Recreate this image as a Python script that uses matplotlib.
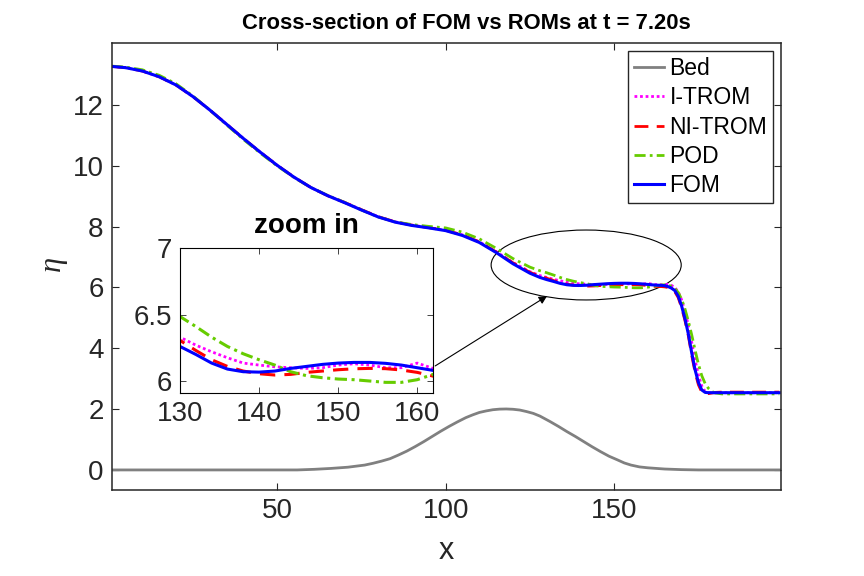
import matplotlib
matplotlib.use("Agg")
import matplotlib.pyplot as plt
from matplotlib.patches import Ellipse

plt.rcParams['font.family'] = ['Liberation Sans', 'DejaVu Sans']
plt.rcParams['mathtext.fontset'] = 'custom'
plt.rcParams['mathtext.it'] = 'Liberation Serif:italic'

# ---------------- data ----------------
x_eta = [1, 5, 10, 15, 20, 25, 30, 35, 40, 45, 50, 55, 60, 65, 70, 75, 80, 85, 90, 95,
         100, 105, 110, 115, 120, 125, 128,
         130, 132, 134, 136, 138, 140, 142, 144, 146, 148, 150, 152, 154, 156, 158, 160, 162,
         164, 165, 166, 167, 168, 169, 170, 171, 172, 173, 174, 175, 176, 177, 178, 179, 180,
         182, 185, 190, 195, 199]

fom = [13.27, 13.23, 13.12, 12.93, 12.66, 12.28, 11.84, 11.37, 10.90, 10.45, 10.02, 9.63, 9.29, 9.02, 8.79, 8.55, 8.32, 8.15, 8.04, 7.96,
       7.87, 7.71, 7.48, 7.15, 6.78, 6.47, 6.33,
       6.26, 6.20, 6.135, 6.09, 6.07, 6.067, 6.075, 6.095, 6.11, 6.125, 6.135, 6.14, 6.14, 6.133, 6.12, 6.10, 6.08,
       6.07, 6.06, 6.03, 5.98, 5.90, 5.72, 5.40, 4.98, 4.48, 3.86, 3.30, 2.88, 2.63, 2.55, 2.54, 2.54, 2.54,
       2.54, 2.54, 2.54, 2.54, 2.54]

i_trom = [13.27, 13.23, 13.12, 12.93, 12.66, 12.28, 11.84, 11.37, 10.90, 10.45, 10.02, 9.63, 9.29, 9.02, 8.80, 8.56, 8.33, 8.16, 8.05, 7.97,
          7.88, 7.73, 7.50, 7.18, 6.82, 6.52, 6.39,
          6.33, 6.27, 6.22, 6.175, 6.135, 6.12, 6.107, 6.10, 6.095, 6.10, 6.12, 6.13, 6.12, 6.10, 6.10, 6.135, 6.095,
          6.09, 6.10, 6.10, 6.07, 6.00, 5.86, 5.60, 5.22, 4.76, 4.20, 3.62, 3.12, 2.76, 2.58, 2.54, 2.54, 2.54,
          2.54, 2.54, 2.54, 2.54, 2.54]

ni_trom = [13.27, 13.23, 13.12, 12.93, 12.66, 12.28, 11.84, 11.37, 10.90, 10.45, 10.02, 9.63, 9.29, 9.02, 8.80, 8.56, 8.33, 8.16, 8.05, 7.97,
           7.88, 7.73, 7.50, 7.17, 6.81, 6.50, 6.37,
           6.306, 6.23, 6.16, 6.11, 6.075, 6.055, 6.045, 6.05, 6.065, 6.075, 6.085, 6.092, 6.095, 6.093, 6.083, 6.065, 6.037,
           6.03, 6.02, 6.00, 5.95, 5.86, 5.67, 5.34, 4.92, 4.42, 3.78, 3.22, 2.80, 2.56, 2.50, 2.51, 2.53, 2.55,
           2.56, 2.56, 2.56, 2.56, 2.56]

pod = [13.28, 13.25, 13.16, 12.98, 12.70, 12.30, 11.84, 11.35, 10.87, 10.42, 10.00, 9.62, 9.29, 9.03, 8.80, 8.55, 8.32, 8.16, 8.07, 8.01,
       7.96, 7.82, 7.60, 7.29, 6.95, 6.67, 6.55,
       6.485, 6.41, 6.33, 6.26, 6.205, 6.16, 6.12, 6.07, 6.04, 6.025, 6.015, 6.01, 6.00, 5.99, 5.99, 6.01, 6.05,
       6.08, 6.09, 6.08, 6.04, 5.97, 5.84, 5.62, 5.30, 4.90, 4.45, 3.95, 3.48, 3.10, 2.84, 2.68, 2.58, 2.53,
       2.50, 2.50, 2.50, 2.50, 2.50]

x_bed = [1, 40, 56, 61, 66, 71, 76, 78.5, 81, 83.5, 86, 88.5, 91, 93.5, 96, 98.5, 101, 103.5,
         106, 108, 110, 112, 114, 116, 118, 120, 122, 124, 126, 128, 131, 133.5, 136, 138.5,
         141, 143.5, 146, 148.5, 151, 153, 155, 157.5, 160, 165, 170, 175, 185, 199]
bed = [0.0, 0.0, 0.0, 0.02, 0.05, 0.09, 0.16, 0.22, 0.29, 0.37, 0.49, 0.62, 0.77, 0.93, 1.10, 1.27, 1.43, 1.58,
       1.72, 1.81, 1.89, 1.94, 1.98, 2.00, 2.005, 1.995, 1.97, 1.92, 1.86, 1.77, 1.59, 1.43, 1.26, 1.10,
       0.93, 0.76, 0.60, 0.45, 0.33, 0.23, 0.16, 0.10, 0.07, 0.03, 0.01, 0.0, 0.0, 0.0]

labels = ['Bed', 'I-TROM', 'NI-TROM', 'POD', 'FOM']
title = 'Cross-section of FOM vs ROMs at t = 7.20s'

# ---------------- styles ----------------
c_bed = '#808080'
c_itrom = '#ff00ff'
c_nitrom = '#ff0000'
c_pod = '#66cc00'
c_fom = '#0000ff'
axc = '#262626'

fig = plt.figure(figsize=(8.64, 5.76), dpi=100)
ax = fig.add_axes([0.1296, 0.1493, 0.7743, 0.776])

ax.plot(x_bed, bed, color=c_bed, lw=2.0, label=labels[0])
ax.plot(x_eta, i_trom, color=c_itrom, lw=2.0, linestyle=(0, (1, 1)), label=labels[1])
ax.plot(x_eta, ni_trom, color=c_nitrom, lw=2.0, linestyle=(0, (5, 3)), label=labels[2])
ax.plot(x_eta, pod, color=c_pod, lw=2.0, linestyle=(0, (4, 1.5, 1, 1.5)), label=labels[3])
ax.plot(x_eta, fom, color=c_fom, lw=2.2, label=labels[4])

ax.set_xlim(1, 199.5)
ax.set_ylim(-0.66, 14.04)
ax.set_xticks([50, 100, 150])
ax.set_yticks([0, 2, 4, 6, 8, 10, 12])
ax.tick_params(direction='in', length=5, width=0.8, colors=axc, labelsize=20,
               top=True, right=True, pad=6)
for s in ax.spines.values():
    s.set_color(axc)
    s.set_linewidth(1.1)

ttl = ax.set_title(title, fontsize=15.8, fontweight='bold', pad=10)
ttl.set_x(0.53)
ax.set_xlabel('x', fontsize=22, color=axc)
ax.xaxis.set_label_coords(0.5, -0.102)
ax.set_ylabel(r'$\eta$', fontsize=22, color=axc)
ax.yaxis.set_label_coords(-0.062, 0.503)

leg = ax.legend(loc='upper right', fontsize=16.5, frameon=True, fancybox=False,
                framealpha=1, edgecolor=axc, handlelength=1.3, handletextpad=0.25,
                borderpad=0.25, labelspacing=0.28, borderaxespad=0.35)
leg.get_frame().set_linewidth(1.0)

# ellipse + arrow annotations
ell = Ellipse((141.7, 6.74), 56.4, 2.3, fill=False, edgecolor='k', lw=0.8, clip_on=False)
ax.add_patch(ell)
ax.annotate('', xy=(130.1, 5.72), xytext=(96.9, 3.42),
            arrowprops=dict(arrowstyle='-|>', color='k', lw=0.8, mutation_scale=12,
                            shrinkA=0, shrinkB=0))

# ---------------- inset ----------------
axi = fig.add_axes([0.2083, 0.3177, 0.2929, 0.2517])
axi.plot(x_eta, i_trom, color=c_itrom, lw=2.0, linestyle=(0, (1, 1)))
axi.plot(x_eta, ni_trom, color=c_nitrom, lw=2.2, linestyle=(0, (5, 3)))
axi.plot(x_eta, pod, color=c_pod, lw=2.2, linestyle=(0, (4, 1.5, 1, 1.5)))
axi.plot(x_eta, fom, color=c_fom, lw=2.2)
axi.set_xlim(130, 162)
axi.set_ylim(5.91, 7.0)
axi.set_xticks([130, 140, 150, 160])
axi.set_yticks([6, 6.5, 7])
axi.set_yticklabels(['6', '6.5', '7'])
axi.tick_params(direction='in', length=4, width=0.6, colors=axc, labelsize=20,
                top=True, right=True, pad=6)
for s in axi.spines.values():
    s.set_color('k')
    s.set_linewidth(0.8)
axi.set_title('zoom in', fontsize=20, fontweight='bold', pad=11)

fig.savefig('out.png', dpi=100)
